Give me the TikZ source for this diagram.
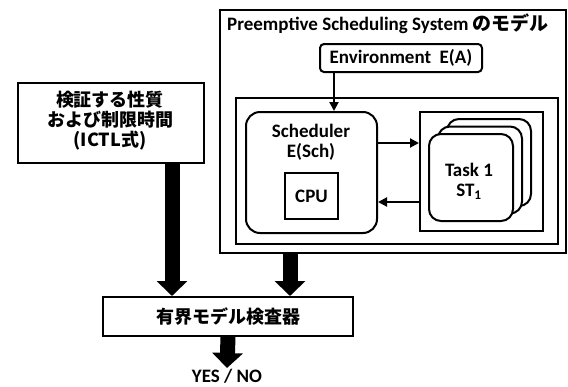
\documentclass[tikz,border=0pt]{standalone}
\usepackage{fontspec}
\setmainfont{Carlito}
\newfontfamily\jp{Noto Sans CJK JP}
\usetikzlibrary{arrows.meta}
\begin{document}
\begin{tikzpicture}[x=1pt,y=-1pt,
  box/.style={draw,line width=2pt,anchor=north west,inner sep=0pt},
  lat/.style={font=\fontsize{19}{20}\selectfont\bfseries,align=center,inner sep=1pt},
  jpt/.style={font=\fontsize{18}{20}\selectfont\jp\bfseries,align=center,inner sep=1pt},
  arr/.style={line width=2pt,-{Triangle[length=9pt,width=9pt]}},
  big/.style={line width=15pt,-{Triangle[length=15pt,width=30pt]}}]
\useasboundingbox (0,0) rectangle (568,386);
% outer system box
\node[box,minimum width=346pt,minimum height=243pt] (outer) at (219,9) {};
\node[lat,anchor=base west] (title) at (226,30) {Preemptive Scheduling System {\jp のモデル}};
\node[box,rounded corners=4pt,minimum width=162pt,minimum height=28pt] (env) at (319,43) {};
\node[lat] (envt) at (env.center) {Environment\ \ E(A)};
\node[box,minimum width=322pt,minimum height=146pt] (inner) at (235,97) {};
\node[box,rounded corners=14pt,minimum width=131pt,minimum height=121pt] (sched) at (245,111) {};
\node[lat] (schedt) at (311,142) {Scheduler\\E(Sch)};
\node[box,minimum width=53pt,minimum height=46pt] (cpu) at (284,172) {};
\node[lat] (cput) at (cpu.center) {CPU};
\node[box,minimum width=123pt,minimum height=119pt] (taskbox) at (419,111) {};
\node[box,fill=white,rounded corners=12pt,minimum width=84pt,minimum height=87pt] (card3) at (446,118) {};
\node[box,fill=white,rounded corners=12pt,minimum width=84pt,minimum height=87pt] (card2) at (437,125.5) {};
\node[box,fill=white,rounded corners=12pt,minimum width=84pt,minimum height=87pt] (card1) at (428,133) {};
\node[lat] (taskt) at (469,181) {Task 1\\ST\textsubscript{1}};
% left box
\node[box,minimum width=186pt,minimum height=80pt] (left) at (17,82) {};
\node[jpt] (leftt) at (110,121) {検証する性質\\および制限時間\\(ICTL式)};
% checker
\node[box,minimum width=250pt,minimum height=39pt] (chk) at (102,296) {};
\node[jpt] (chkt) at (chk.center) {有界モデル検査器};
\node[lat,anchor=north] (yn) at (227,368) {YES / NO};
% helper coordinates
\coordinate (ea) at (334,0);
\coordinate (s1) at (0,143);
\coordinate (s2) at (0,202);
\coordinate (la) at (172,0);
\coordinate (ra) at (290,0);
% connectors
\draw[arr] (env.south -| ea) -- (sched.north -| ea);
\draw[arr] (sched.east |- s1) -- (taskbox.west |- s1);
\draw[arr] (taskbox.west |- s2) -- (sched.east |- s2);
\draw[big] (left.south -| la) -- (chk.north -| la);
\draw[big] (outer.south -| ra) -- (chk.north -| ra);
\draw[big] (chk.south) -- (yn.north);
\end{tikzpicture}
\end{document}
